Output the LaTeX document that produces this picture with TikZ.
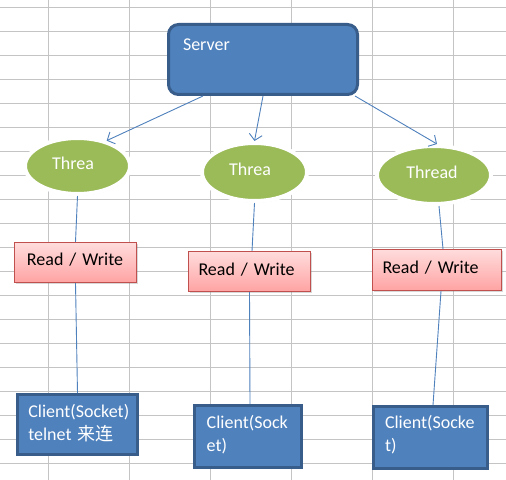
\documentclass[tikz,border=0pt]{standalone}
\usepackage{fontspec}
\setmainfont{Carlito}
\newfontfamily\cjk{Noto Sans CJK SC}
\usetikzlibrary{shapes.geometric,shadows,arrows.meta}
\definecolor{kastenblau}{HTML}{4F81BD}
\definecolor{randblau}{HTML}{385D8A}
\definecolor{ovalgruen}{HTML}{9BBB59}
\definecolor{randrot}{HTML}{C0504D}
\definecolor{rosahell}{HTML}{FFDCDC}
\definecolor{rosadunkel}{HTML}{FFA3A3}
\definecolor{gitter}{HTML}{C4C4C4}

\tikzset{
  blaubox/.style={draw=randblau, fill=kastenblau, line width=3bp, text=white,
    align=left, inner ysep=0pt},
  rwbox/.style={draw=randrot, top color=rosahell, bottom color=rosadunkel, line width=1.2bp,
    drop shadow={shadow xshift=1.5bp, shadow yshift=-1.5bp, opacity=.3},
    align=left, inner ysep=0pt, text=black},
  oval/.style={ellipse, draw=white, line width=4bp, fill=ovalgruen, inner sep=0pt,
    text=white, text depth=6bp,
    drop shadow={shadow xshift=0.5bp, shadow yshift=-1.5bp, opacity=.3}},
  pfeil/.style={draw=kastenblau, line width=0.9bp, -{Straight Barb[length=6bp,width=13bp]}},
  linie/.style={draw=kastenblau, line width=0.9bp}
}

\begin{document}
\begin{tikzpicture}[x=1bp,y=-1bp,font=\fontsize{18bp}{23bp}\selectfont]
\useasboundingbox (0,0) rectangle (506,480);
\fill[white] (0,0) rectangle (506,480);

%Gitter im Hintergrund
\foreach \gx in {0,...,5}
  \draw[gitter, line width=1bp] (48.7+80.9*\gx,0) -- (48.7+80.9*\gx,480);
\foreach \gy in {0,...,19}
  \draw[gitter, line width=1bp] (0,7.7+24*\gy) -- (506,7.7+24*\gy);

%Server oben
\node[blaubox, rounded corners=10bp, inner xsep=14.5bp, text width=160bp,
  text height=26.5bp, text depth=43.5bp] (srv) at (263,59.5) {Server};

%Threads
\node[oval, minimum width=105bp, minimum height=56bp] (t1) at (77.5,166) {Threa\hspace*{9bp}};
\node[oval, minimum width=105bp, minimum height=58bp] (t2) at (254.5,172) {Threa\hspace*{9bp}};
\node[oval, minimum width=114bp, minimum height=58bp] (t3) at (434,175) {Thread\hspace*{4bp}};

%Read / Write
\node[rwbox, inner xsep=12.5bp, text width=97bp, text height=22.5bp, text depth=17.5bp]
  (rw1) at (75.5,262.5) {Read / Write};
\node[rwbox, inner xsep=10bp, text width=102bp, text height=23.5bp, text depth=16.5bp]
  (rw2) at (249.5,271.5) {Read / Write};
\node[rwbox, inner xsep=10bp, text width=109bp, text height=23.8bp, text depth=17.2bp]
  (rw3) at (437,270) {Read / Write};

%Clients unten
\node[blaubox, inner xsep=10.8bp, text width=98.4bp, text height=22.8bp, text depth=37.2bp]
  (c1) at (77.5,424.5) {\mbox{Client(Socket)}\\telnet {\cjk 来连}};
\node[blaubox, inner xsep=12.2bp, text width=82.6bp, text height=22.8bp, text depth=39.2bp]
  (c2) at (248,436.5) {\mbox{Client(Sock}\\et)};
\node[blaubox, inner xsep=11.5bp, text width=91bp, text height=21.8bp, text depth=40.2bp]
  (c3) at (430.5,437.5) {\mbox{Client(Socke}\\t)};

%Pfeile vom Server
\draw[pfeil] ([xshift=-60bp]srv.south) -- (t1.41);
\draw[pfeil] (srv.south) -- (t2.north);
\draw[pfeil] ([xshift=-4bp]srv.south east) -- ([xshift=3bp]t3.north);

%Verbindungen nach unten
\draw[linie] (t1.south) -- (rw1.north);
\draw[linie] (rw1.south) -- (c1.north);
\draw[linie] (t2.south) -- ([xshift=2.5bp]rw2.north);
\draw[linie] (rw2.south) -- ([xshift=2bp]c2.north);
\draw[linie] ([xshift=5bp]t3.south) -- ([xshift=6bp]rw3.north);
\draw[linie] ([xshift=4bp]rw3.south) -- ([xshift=2.5bp]c3.north);

\end{tikzpicture}
\end{document}
